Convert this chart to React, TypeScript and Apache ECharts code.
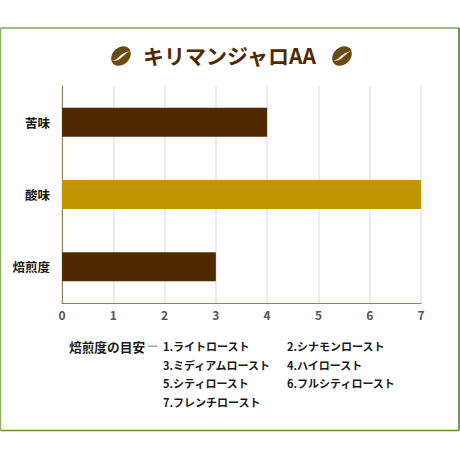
import React, { useEffect, useRef } from "react";
import * as echarts from "echarts";

const titleText = "キリマンジャロAA";
const categories = ["焙煎度", "酸味", "苦味"];
const values = [3, 7, 4];
const barColors = ["#4f2a00", "#bf9500", "#4f2a00"];
const xTicks = [0, 1, 2, 3, 4, 5, 6, 7];
const noteHead = "焙煎度の目安";
const noteDash = "ー";
const notesLeft = ["1.ライトロースト", "3.ミディアムロースト", "5.シティロースト", "7.フレンチロースト"];
const notesRight = ["2.シナモンロースト", "4.ハイロースト", "6.フルシティロースト"];

const groovePath = "M1 15 C5 14 7 12 9 10 C11 8 14 6 19 5 C14 8 12 10 10 12 C8 14 5 15 1 15 Z";
echarts.graphic.registerShape("beanGroove", echarts.graphic.extendPath(groovePath, {}) as any);

const sans = '"Noto Sans CJK JP", sans-serif';

const bean = (x: number, y: number) => ({
  type: "group",
  x,
  y,
  children: [
    {
      type: "ellipse",
      x: 10,
      y: 10,
      rotation: Math.PI / 4,
      shape: { cx: 0, cy: 0, rx: 11, ry: 8.5 },
      style: { fill: "#6b4a10" },
    },
    { type: "beanGroove", style: { fill: "#ffffff" } },
  ],
});

const borderLine = (x1: number, y1: number, x2: number, y2: number, stroke: string) => ({
  type: "line",
  silent: true,
  shape: { x1, y1, x2, y2 },
  style: { stroke, lineWidth: 1.5 },
});

function App() {
  const ref = useRef<HTMLDivElement>(null);
  useEffect(() => {
    document.body.style.margin = "0";
    const chart = echarts.init(ref.current!, undefined, { renderer: "svg" });
    const noteStyle = { fill: "#1a1a1a", font: `bold 11px ${sans}` };
    const rows = [346, 364.5, 383, 402];
    chart.setOption({
      animation: false,
      backgroundColor: "#ffffff",
      title: {
        text: titleText,
        left: 224.5,
        top: 39,
        textAlign: "center",
        textStyle: { color: "#4f2a00", fontSize: 21, fontWeight: "bold", fontFamily: sans },
      },
      grid: { left: 62, right: 39, top: 86, bottom: 157 },
      xAxis: {
        type: "value",
        min: 0,
        max: 7,
        interval: 1,
        axisLine: { show: true, lineStyle: { color: "#8a8350", width: 1 } },
        axisTick: { show: false },
        splitLine: { show: true, lineStyle: { color: "#e4e4e4", width: 1.5 } },
        axisLabel: {
          color: "#555555",
          fontSize: 12,
          fontWeight: "bold",
          fontFamily: sans,
          margin: 5,
          formatter: (v: number) => String(xTicks[v]),
        },
      },
      yAxis: {
        type: "category",
        data: categories,
        axisLine: { show: true, lineStyle: { color: "#8a8350", width: 1 } },
        axisTick: { show: false },
        axisLabel: { color: "#1a1a1a", fontSize: 12.5, fontWeight: "bold", fontFamily: sans, margin: 12 },
      },
      series: [
        {
          type: "bar",
          barWidth: 29,
          data: values.map((v, i) => ({ value: v, itemStyle: { color: barColors[i] } })),
        },
      ],
      graphic: [
        borderLine(0.5, 28, 459, 28, "#7fa84f"),
        borderLine(459, 28, 459, 430.5, "#3f7a10"),
        borderLine(0.5, 430.5, 459, 430.5, "#5f9030"),
        borderLine(0.5, 28, 0.5, 430.5, "#8fb060"),
        bean(111, 46),
        bean(332, 46),
        {
          type: "text",
          x: 69,
          y: rows[0],
          style: { fill: "#1a1a1a", font: `bold 12.7px ${sans}`, text: noteHead, textVerticalAlign: "middle" },
        },
        {
          type: "text",
          x: 147,
          y: rows[0],
          style: { fill: "#aaaaaa", font: `bold 11px ${sans}`, text: noteDash, textVerticalAlign: "middle" },
        },
        ...notesLeft.map((t, i) => ({
          type: "text",
          x: 163,
          y: rows[i],
          style: { ...noteStyle, text: t, textVerticalAlign: "middle" },
        })),
        ...notesRight.map((t, i) => ({
          type: "text",
          x: 287,
          y: rows[i],
          style: { ...noteStyle, text: t, textVerticalAlign: "middle" },
        })),
      ],
    });
    return () => chart.dispose();
  }, []);
  return <div ref={ref} style={{ width: 460, height: 460 }} />;
}

export default App;
